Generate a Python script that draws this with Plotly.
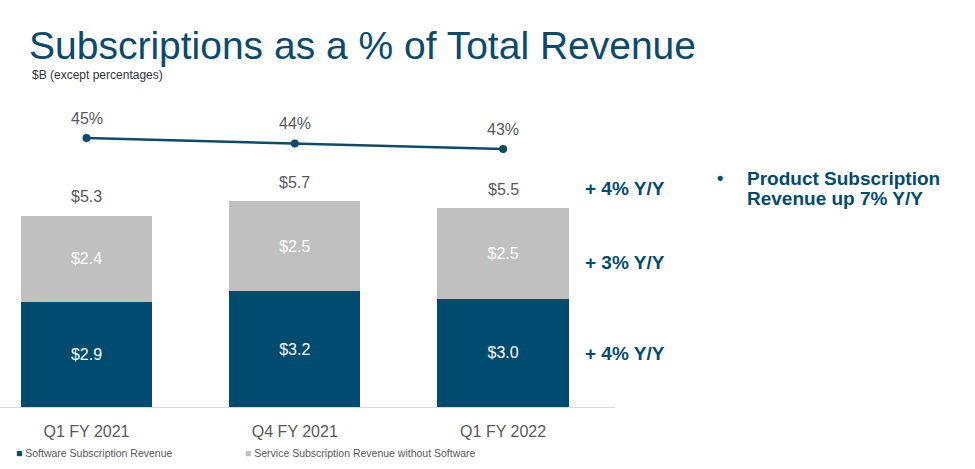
import plotly.graph_objects as go

categories = ["Q1 FY 2021", "Q4 FY 2021", "Q1 FY 2022"]
software_rev = [2.9, 3.2, 3.0]
service_rev = [2.4, 2.5, 2.5]
total_rev = [5.3, 5.7, 5.5]
subs_pct = [45, 44, 43]
series_names = ["Software Subscription Revenue", "Service Subscription Revenue without Software"]
yoy_labels = ["+ 4% Y/Y", "+ 3% Y/Y", "+ 4% Y/Y"]
yoy_values = [6.05, 4.0, 1.47]  # vertical anchor values on $B axis
side_note = ["Product Subscription", "Revenue up 7% Y/Y"]

NAVY = "#004C70"
GRAY = "#C0C0C0"
TXT = "#595959"
FONT = "Liberation Sans, Arial, sans-serif"

W, H = 975, 469
L, R, T, B = 0, 360, 100, 62
PW = W - L - R
PH = H - T - B

def px(x):
    return (x - L) / PW

def py(y):
    return (H - B - y) / PH

fig = go.Figure()

fig.add_trace(go.Bar(
    x=categories, y=software_rev, name=series_names[0],
    marker=dict(color=NAVY, line=dict(width=0)), width=0.63,
    text=[f"${v:.1f}" for v in software_rev], textposition="inside",
    insidetextanchor="middle", textfont=dict(color="white", size=16, family=FONT),
    showlegend=False,
))
fig.add_trace(go.Bar(
    x=categories, y=service_rev, name=series_names[1],
    marker=dict(color=GRAY, line=dict(width=0)), width=0.63,
    text=[f"${v:.1f}" for v in service_rev], textposition="inside",
    insidetextanchor="middle", textfont=dict(color="white", size=16, family=FONT),
    showlegend=False,
))
fig.add_trace(go.Scatter(
    x=categories, y=subs_pct, yaxis="y2", mode="lines+markers",
    line=dict(color="#0E4A6C", width=2.5), marker=dict(size=8, color="#0E4A6C"),
    showlegend=False, cliponaxis=False,
))

annotations = []
# totals above bars
for c, v in zip(categories, total_rev):
    annotations.append(dict(
        xref="x", yref="y", x=c, y=v, yshift=19, xanchor="center", yanchor="middle",
        text=f"${v:.1f}", showarrow=False, font=dict(size=16, color=TXT, family=FONT),
    ))
# percentage labels
for c, v in zip(categories, subs_pct):
    annotations.append(dict(
        xref="x", yref="y2", x=c, y=v, yshift=20, xanchor="center", yanchor="middle",
        text=f"{v}%", showarrow=False, font=dict(size=16, color=TXT, family=FONT),
    ))
# Y/Y growth labels
for lab, v in zip(yoy_labels, yoy_values):
    annotations.append(dict(
        xref="paper", yref="y", x=px(583), y=v, xanchor="left", yanchor="middle",
        text=f"<b>{lab}</b>", showarrow=False,
        font=dict(size=19, color=NAVY, family=FONT),
    ))
# side note
annotations.append(dict(
    xref="paper", yref="paper", x=px(715), y=py(178), xanchor="left", yanchor="middle",
    text="<b>•</b>", showarrow=False, font=dict(size=18, color=NAVY, family=FONT),
))
for line, ly in zip(side_note, [178, 198]):
    annotations.append(dict(
        xref="paper", yref="paper", x=px(745), y=py(ly), xanchor="left", yanchor="middle",
        text=f"<b>{line}</b>", showarrow=False, align="left",
        font=dict(size=19, color=NAVY, family=FONT),
    ))
# legend
for name, col, lx in zip(series_names, [NAVY, GRAY], [14, 243]):
    annotations.append(dict(
        xref="paper", yref="paper", x=px(lx), y=py(453), xanchor="left", yanchor="middle",
        text=f'<span style="color:{col}">■</span> {name}', showarrow=False,
        font=dict(size=10.5, color=TXT, family=FONT),
    ))
# subtitle
annotations.append(dict(
    xref="paper", yref="paper", x=px(30), y=py(75), xanchor="left", yanchor="middle",
    text="$B (except percentages)", showarrow=False,
    font=dict(size=12, color="#333333", family=FONT),
))

fig.update_layout(
    width=W, height=H,
    margin=dict(l=L, r=R, t=T, b=B, pad=0),
    paper_bgcolor="white", plot_bgcolor="white",
    barmode="stack", bargap=0.37,
    title=dict(
        text="Subscriptions as a % of Total Revenue",
        x=29 / W, xanchor="left", xref="container",
        y=1 - 45 / H, yanchor="middle", yref="container",
        font=dict(size=39, color="#0B4A6F", family=FONT),
    ),
    xaxis=dict(
        range=[-86.5 / 208.3, (PW - 86.5) / 208.3],
        showline=True, linecolor="#D9D9D9", linewidth=1,
        showgrid=False, zeroline=False, ticks="",
        tickfont=dict(size=16, color=TXT, family=FONT),
        ticklabelstandoff=10,
    ),
    yaxis=dict(range=[0, PH / 36.1], visible=False, showgrid=False, zeroline=False),
    yaxis2=dict(
        range=[45 - (H - B - 138) / 5.5, 45 - (H - B - 138) / 5.5 + PH / 5.5],
        overlaying="y", visible=False, showgrid=False, zeroline=False,
    ),
    annotations=annotations,
    font=dict(family=FONT),
)

fig.write_html(
    "out.html",
    config={"displayModeBar": False},
    post_script="document.body.style.margin='0';document.body.style.padding='0';",
)
